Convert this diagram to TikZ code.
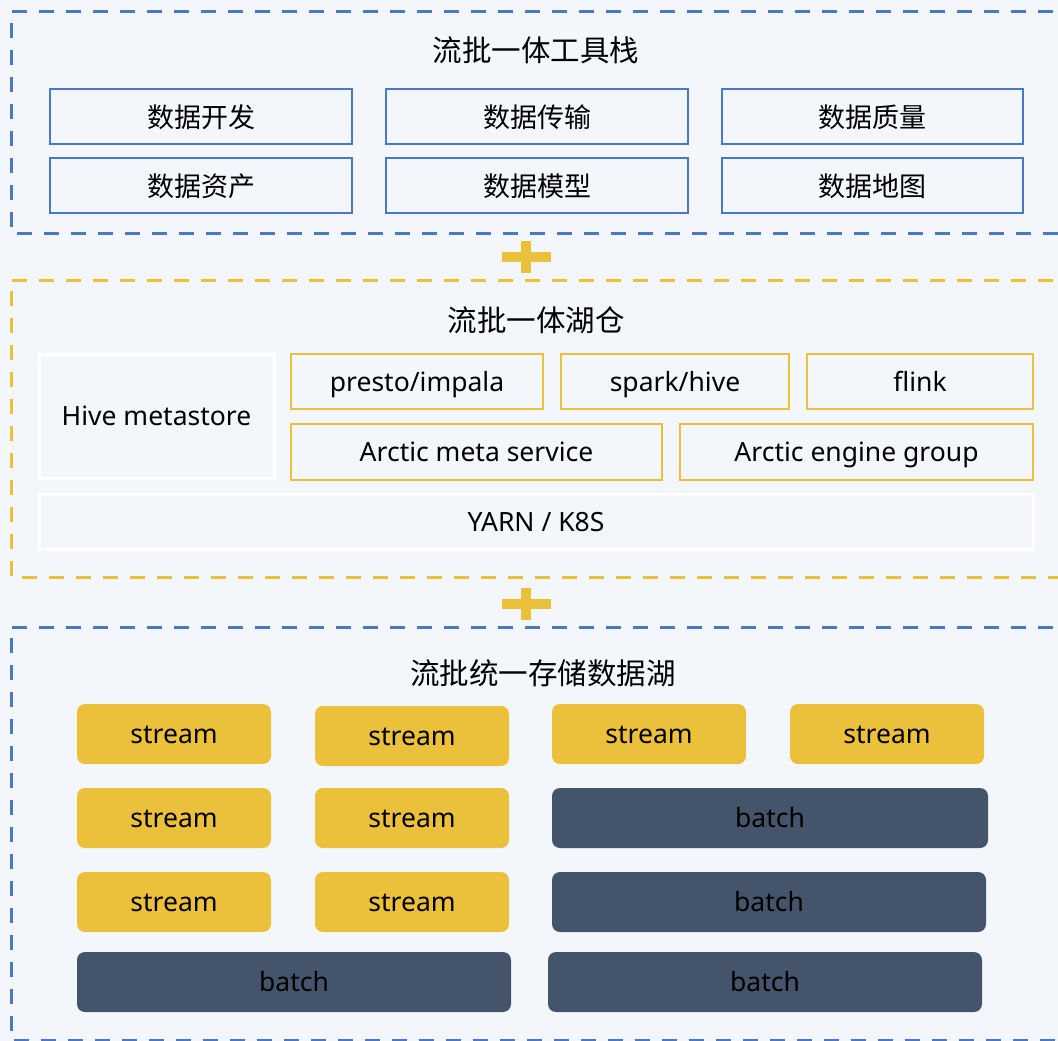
\documentclass[tikz,border=0pt]{standalone}
\usepackage{fontspec}
\setmainfont{Noto Sans}
\newfontfamily\cjk{Noto Sans CJK SC}
\definecolor{bgc}{HTML}{F3F7FB}
\definecolor{blueline}{HTML}{4A78C9}
\definecolor{yel}{HTML}{EBC03A}
\definecolor{slate}{HTML}{44546A}
\tikzset{
  lat/.style={font=\fontsize{26.5}{30}\selectfont, text height=22pt, text depth=3pt, inner sep=0pt},
  zh/.style={font=\cjk\fontsize{27}{30}\selectfont, text height=25pt, text depth=3pt, inner sep=0pt},
  ztitle/.style={font=\cjk\fontsize{29.5}{32}\selectfont},
  bluedash/.style={draw=blueline, line width=3pt, dash pattern=on 15pt off 12pt},
  yeldash/.style={draw=yel, line width=3pt, dash pattern=on 15pt off 12pt},
  toolbox/.style={draw=blueline, line width=2.5pt, fill=none},
  lakebox/.style={draw=yel, line width=2.5pt},
  whitebox/.style={draw=white, line width=3pt},
  streambox/.style={fill=yel, rounded corners=8pt},
  batchbox/.style={fill=slate, rounded corners=8pt},
}
\begin{document}
\begin{tikzpicture}[x=1pt,y=-1pt]
\clip (0,0) rectangle (1058,1041);
\fill[bgc] (0,0) rectangle (1058,1041);
\useasboundingbox (0,0) rectangle (1058,1041);

% ---- top section ----
\draw[bluedash] (1080,12) -- (11,12) -- (11,233) -- (1080,233);
\node[ztitle] (t1) at (536,50) {流批一体工具栈};
\draw[toolbox] (50,89) rectangle (352,144) node[midway,zh] (a1) {数据开发};
\draw[toolbox] (386,89) rectangle (688,144) node[midway,zh] (a2) {数据传输};
\draw[toolbox] (722,89) rectangle (1023,144) node[midway,zh] (a3) {数据质量};
\draw[toolbox] (50,158) rectangle (352,213) node[midway,zh] (a4) {数据资产};
\draw[toolbox] (386,158) rectangle (688,213) node[midway,zh] (a5) {数据模型};
\draw[toolbox] (722,158) rectangle (1023,213) node[midway,zh] (a6) {数据地图};

% plus 1
\fill[yel] (502,252) rectangle (551,262);
\fill[yel] (521,241) rectangle (531,273);

% ---- middle section ----
\draw[yeldash] (1080,280) -- (11,280) -- (11,577) -- (1080,577);
\node[ztitle] (t2) at (536,320) {流批一体湖仓};
\draw[whitebox] (39,354) rectangle (274,478) node[midway,lat] (hm) {Hive metastore};
\draw[lakebox] (291,354) rectangle (543,409) node[midway,lat] (pi) {presto/impala};
\draw[lakebox] (561,354) rectangle (789,409) node[midway,lat] (sh) {spark/hive};
\draw[lakebox] (807,354) rectangle (1033,409) node[midway,lat] (fl) {flink};
\draw[lakebox] (291,424) rectangle (662,480) node[midway,lat] (ams) {Arctic meta service};
\draw[lakebox] (680,424) rectangle (1033,480) node[midway,lat] (aeg) {Arctic engine group};
\draw[whitebox] (39,494) rectangle (1033,549) node[midway,lat] (yk) {YARN / K8S};

% plus 2
\fill[yel] (502,599) rectangle (551,609);
\fill[yel] (521,588) rectangle (531,620);

% ---- bottom section ----
\draw[bluedash] (1080,627) -- (11,627) -- (11,1040) -- (1080,1040);
\node[ztitle] (t3) at (543,673) {流批统一存储数据湖};

\fill[streambox] (77,704) rectangle (271,764) node[midway,lat] (s1) {stream};
\fill[streambox] (315,706) rectangle (509,766) node[midway,lat] (s2) {stream};
\fill[streambox] (552,704) rectangle (746,764) node[midway,lat] (s3) {stream};
\fill[streambox] (790,704) rectangle (984,764) node[midway,lat] (s4) {stream};

\fill[streambox] (77,788) rectangle (271,848) node[midway,lat] (s5) {stream};
\fill[streambox] (315,788) rectangle (509,848) node[midway,lat] (s6) {stream};
\fill[batchbox] (552,788) rectangle (988,848) node[midway,lat] (b1) {batch};

\fill[streambox] (77,872) rectangle (271,932) node[midway,lat] (s7) {stream};
\fill[streambox] (315,872) rectangle (509,932) node[midway,lat] (s8) {stream};
\fill[batchbox] (552,872) rectangle (986,932) node[midway,lat] (b2) {batch};

\fill[batchbox] (77,952) rectangle (511,1012) node[midway,lat] (b3) {batch};
\fill[batchbox] (548,952) rectangle (982,1012) node[midway,lat] (b4) {batch};
\end{tikzpicture}
\end{document}
